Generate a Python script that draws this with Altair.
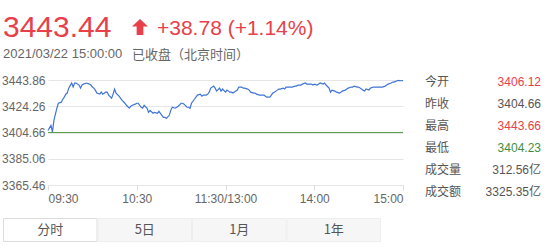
import altair as alt
import pandas as pd

# ---------------- data ----------------
minutes = [0, 2, 3, 4, 6, 7, 9, 10, 11, 12, 13, 14, 16, 17, 18, 19, 21, 22, 23, 24,
           26, 28, 29, 30, 31, 32, 33, 35, 36, 37, 39, 40, 41, 43, 44, 45, 46, 48, 49, 50,
           52, 53, 55, 56, 57, 59, 60, 61, 63, 64, 65, 67, 68, 69, 71, 72, 74, 75, 76, 78,
           79, 80, 82, 83, 84, 86, 87, 88, 90, 91, 92, 94, 95, 96, 97, 99, 100, 101, 103, 104,
           105, 107, 108, 109, 110, 112, 113, 114, 116, 117, 118, 120, 121, 123, 124, 125, 127, 128, 129, 131,
           132, 133, 135, 136, 137, 139, 140, 141, 143, 144, 146, 147, 148, 150, 151, 152, 153, 155, 156, 157,
           159, 160, 161, 163, 164, 165, 167, 168, 169, 171, 172, 174, 175, 176, 178, 179, 180, 182, 183, 184,
           186, 187, 188, 190, 191, 192, 194, 195, 197, 198, 199, 201, 202, 203, 205, 206, 207, 209, 210, 211,
           213, 214, 215, 217, 218, 220, 221, 222, 224, 225, 226, 228, 229, 230, 232, 233, 234, 236, 237, 238,
           240]
prices = [3406.12, 3409.9, 3405.0, 3413.7, 3422.8, 3426.5, 3427.3, 3429.5, 3431.0, 3433.3,
          3434.1, 3437.8, 3441.6, 3438.6, 3441.6, 3441.6, 3440.1, 3437.8, 3440.1, 3440.8,
          3441.6, 3440.8, 3440.1, 3438.6, 3437.8, 3436.3, 3434.1, 3433.3, 3434.8, 3433.3,
          3434.8, 3434.8, 3432.6, 3430.3, 3433.3, 3437.1, 3434.1, 3431.8, 3430.3, 3428.8,
          3426.5, 3425.0, 3422.8, 3424.3, 3425.0, 3425.8, 3426.5, 3426.5, 3423.5, 3422.8,
          3425.0, 3422.8, 3419.7, 3421.2, 3419.0, 3419.7, 3419.0, 3420.5, 3419.0, 3416.0,
          3416.0, 3415.2, 3417.5, 3421.2, 3423.5, 3422.8, 3423.5, 3424.3, 3426.5, 3426.5,
          3425.8, 3423.5, 3423.5, 3422.8, 3426.5, 3429.5, 3431.0, 3432.6, 3433.3, 3431.8,
          3432.6, 3432.6, 3433.3, 3434.8, 3437.8, 3439.3, 3437.8, 3435.6, 3437.8, 3435.6,
          3437.1, 3434.8, 3436.3, 3434.8, 3434.8, 3434.1, 3435.6, 3436.3, 3438.6, 3438.6,
          3437.8, 3437.8, 3437.1, 3436.3, 3434.8, 3434.1, 3434.1, 3433.3, 3432.6, 3432.6,
          3432.6, 3431.8, 3431.0, 3431.0, 3432.6, 3434.1, 3434.8, 3436.3, 3437.1, 3437.1,
          3437.8, 3437.1, 3438.6, 3438.6, 3438.6, 3438.6, 3439.3, 3439.3, 3440.1, 3440.1,
          3440.8, 3441.6, 3440.8, 3440.8, 3440.8, 3440.1, 3440.8, 3440.1, 3440.8, 3441.6,
          3440.8, 3441.6, 3440.1, 3437.8, 3434.8, 3436.3, 3435.6, 3434.8, 3434.1, 3434.8,
          3435.6, 3436.3, 3437.1, 3437.8, 3438.6, 3438.6, 3439.3, 3438.6, 3438.6, 3437.8,
          3436.3, 3435.6, 3437.1, 3436.3, 3437.8, 3438.6, 3438.6, 3438.6, 3438.6, 3438.6,
          3438.6, 3439.3, 3440.1, 3440.8, 3441.6, 3442.3, 3442.3, 3443.3, 3443.6, 3443.3,
          3443.44]
prev_close = [3404.66]
y_ticks = [3365.46, 3385.06, 3404.66, 3424.26, 3443.86]
x_ticks = [0, 60, 120, 180, 240]
x_labels = ["09:30", "10:30", "11:30/13:00", "14:00", "15:00"]

last_price = ["3443.44"]
change_text = ["+38.78 (+1.14%)"]
date_text = ["2021/03/22 15:00:00"]
status_text = ["已收盘（北京时间）"]

stat_labels = ["今开", "昨收", "最高", "最低", "成交量", "成交额"]
stat_values = ["3406.12", "3404.66", "3443.66", "3404.23", "312.56亿", "3325.35亿"]
stat_kind = ["up", "flat", "up", "down", "flat", "flat"]
tabs = ["分时", "5日", "1月", "1年"]

# ---------------- style ----------------
RED = "#e8404a"
GREEN = "#3d8f3f"
GRAY = "#555555"
LINE_BLUE = "#3f74d6"
LINE_GREEN = "#59a14a"
NUM_FONT = "Liberation Sans, Noto Sans CJK SC"
CJK_FONT = "Noto Sans CJK SC, Liberation Sans"
kind_color = {"up": RED, "down": GREEN, "flat": GRAY}

L, T, W, H = 48, 80, 355, 105   # plot origin and size
TOTAL_W, TOTAL_H = 549, 248


def px(x):
    return x - L


def py(y):
    return y - T


df = pd.DataFrame({"m": minutes, "p": prices})

label_expr = " : ".join(
    f"datum.value == {v} ? '{s}'" for v, s in zip(x_ticks, x_labels)
) + " : ''"

xscale = alt.Scale(domain=[0, 240], nice=False, zero=False)
yscale = alt.Scale(domain=[y_ticks[0], y_ticks[-1]], nice=False, zero=False)

yaxis = alt.Axis(values=y_ticks, tickCount=len(y_ticks), format=".2f", title=None,
                 grid=True, gridColor="#e6e6e6", domain=False, ticks=False,
                 labelOverlap=False, labelFlush=False,
                 labelPadding=3, labelFontSize=12, labelColor="#666666",
                 labelFont=NUM_FONT)

line = alt.Chart(df).mark_line(color=LINE_BLUE, strokeWidth=1.2).encode(
    x=alt.X("m:Q", scale=xscale,
            axis=alt.Axis(values=x_ticks, tickCount=len(x_ticks), labelExpr=label_expr,
                          title=None, grid=False,
                          domain=False, ticks=True, tickSize=5, tickColor="#dddddd",
                          labelFlush=True, labelOverlap=False, labelPadding=3,
                          labelFontSize=12, labelColor="#666666", labelFont=NUM_FONT)),
    y=alt.Y("p:Q", scale=yscale, axis=yaxis),
)

base_rule = alt.Chart(pd.DataFrame({"pc": prev_close})).mark_rule(
    color=LINE_GREEN, strokeWidth=1).encode(y=alt.Y("pc:Q", scale=yscale, axis=yaxis))

layers = [base_rule, line]

# header
layers.append(alt.Chart(pd.DataFrame({"t": last_price})).mark_text(
    align="left", baseline="alphabetic", fontSize=30, font=NUM_FONT, color=RED
).encode(text="t:N", x=alt.value(px(3)), y=alt.value(py(37))))

layers.append(alt.Chart(pd.DataFrame({"t": ["up"]})).mark_point(
    shape="M0,-1L1,-0.05L0.42,-0.05L0.42,1L-0.42,1L-0.42,-0.05L-1,-0.05Z",
    filled=True, color=RED, opacity=1, size=256, strokeWidth=0
).encode(x=alt.value(px(140)), y=alt.value(py(27))))

layers.append(alt.Chart(pd.DataFrame({"t": change_text})).mark_text(
    align="left", baseline="alphabetic", fontSize=21, font=NUM_FONT, color=RED
).encode(text="t:N", x=alt.value(px(157)), y=alt.value(py(35))))

layers.append(alt.Chart(pd.DataFrame({"t": date_text})).mark_text(
    align="left", baseline="alphabetic", fontSize=13, font=NUM_FONT, color="#666666"
).encode(text="t:N", x=alt.value(px(3)), y=alt.value(py(58))))

layers.append(alt.Chart(pd.DataFrame({"t": status_text})).mark_text(
    align="left", baseline="alphabetic", fontSize=13, font=CJK_FONT, color="#666666"
).encode(text="t:N", x=alt.value(px(132)), y=alt.value(py(59))))

# right stats panel
for i, (lab, val, k) in enumerate(zip(stat_labels, stat_values, stat_kind)):
    yy = 82 + i * 22
    d = pd.DataFrame({"lab": [lab], "val": [val]})
    layers.append(alt.Chart(d).mark_text(
        align="left", baseline="middle", fontSize=12, font=CJK_FONT, color=GRAY
    ).encode(text="lab:N", x=alt.value(px(425)), y=alt.value(py(yy))))
    layers.append(alt.Chart(d).mark_text(
        align="right", baseline="middle", fontSize=12, font=NUM_FONT, color=kind_color[k]
    ).encode(text="val:N", x=alt.value(px(541)), y=alt.value(py(yy))))

# bottom tabs
tab_w = 94.5
for i, name in enumerate(tabs):
    x0 = 3 + i * tab_w
    d = pd.DataFrame({"t": [name]})
    active = i == 0
    layers.append(alt.Chart(d).mark_rect(
        fill="#ffffff" if active else "#f6f6f6",
        stroke="#dcdcdc" if active else "#eeeeee", strokeWidth=1
    ).encode(x=alt.value(px(x0) + 0.5), x2=alt.value(px(x0 + tab_w) - 0.5),
             y=alt.value(py(218) + 0.5), y2=alt.value(py(242) - 0.5)))
    layers.append(alt.Chart(d).mark_text(
        align="center", baseline="middle", fontSize=13, font=CJK_FONT, color=GRAY
    ).encode(text="t:N", x=alt.value(px(x0 + tab_w / 2)), y=alt.value(py(230))))

chart = alt.layer(*layers).properties(
    width=W, height=H,
    autosize=alt.AutoSizeParams(type="none"),
    padding={"left": L, "top": T, "right": TOTAL_W - L - W, "bottom": TOTAL_H - T - H},
    background="#ffffff",
).configure_view(stroke=None)

chart.save("out.html", embed_options={"renderer": "svg", "actions": False})
